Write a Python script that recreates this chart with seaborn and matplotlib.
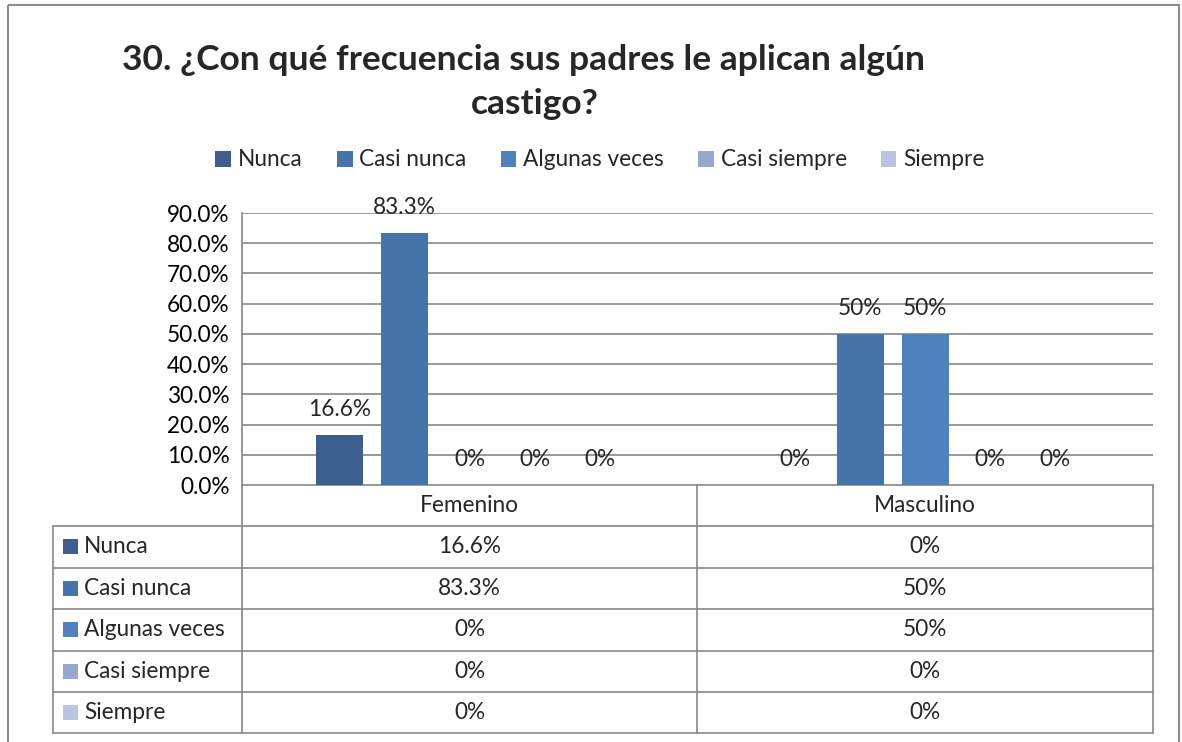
import pandas as pd
import seaborn as sns
import matplotlib.pyplot as plt
from matplotlib.patches import Rectangle

# Data (percent of respondents)
sexos = ["Femenino", "Masculino"]
respuestas = ["Nunca", "Casi nunca", "Algunas veces", "Casi siempre", "Siempre"]
femenino = [16.6, 83.3, 0, 0, 0]
masculino = [0, 50, 50, 0, 0]
colores = ["#3C5F8F", "#4673A9", "#4F81BD", "#95A8D0", "#B9C5E0"]
yticks = [0, 10, 20, 30, 40, 50, 60, 70, 80, 90]

df = pd.DataFrame({
    "sexo": [s for s in sexos for _ in respuestas],
    "respuesta": respuestas * 2,
    "pct": femenino + masculino,
})

sns.set_style("white")
plt.rcParams["font.family"] = ["Lato", "DejaVu Sans"]
fs = 16.3

W, H = 1182, 742
fig = plt.figure(figsize=(W / 100, H / 100), dpi=100)

# pixel helper axes for frame, title, table
over = fig.add_axes([0, 0, 1, 1])
over.set_xlim(0, W)
over.set_ylim(H, 0)
over.axis("off")
over.patch.set_alpha(0)

ax = fig.add_axes([242 / W, 1 - 485 / H, (1153 - 242) / W, (485 - 213) / H])
sns.barplot(data=df, x="sexo", y="pct", hue="respuesta", hue_order=respuestas,
            palette=colores, saturation=1, width=0.714, gap=0.28, linewidth=0, ax=ax)
ax.set_xlim(-0.5, 1.5)
ax.set_ylim(0, 90)
ax.set_yticks(yticks)
ax.set_yticklabels([f"{t:.1f}%" for t in yticks], fontsize=fs)
ax.set_xticks([])
ax.set_xlabel("")
ax.set_ylabel("")
ax.grid(axis="y", color="#868686", lw=1.2)
ax.set_axisbelow(True)
for side in ["top", "right", "bottom"]:
    ax.spines[side].set_visible(False)
ax.spines["left"].set_color("#868686")
ax.spines["left"].set_linewidth(1.2)
ax.tick_params(axis="y", length=7, color="#868686", width=1.2, pad=2, labelcolor="black")

for cont in ax.containers:
    labs = [f"{b.get_height():g}%" for b in cont]
    ax.bar_label(cont, labels=labs, padding=11, fontsize=fs)

handles, labels = ax.get_legend_handles_labels()
ax.get_legend().remove()
fig.legend(handles, labels, loc="center", bbox_to_anchor=(600 / W, 1 - 160 / H),
           ncol=5, frameon=False, fontsize=fs, handlelength=0.7, handleheight=0.7,
           handletextpad=0.3, columnspacing=1.5)

# title
over.text(524, 60, "30. ¿Con qué frecuencia sus padres le aplican algún",
          ha="center", va="center", fontsize=25.5, fontweight="bold")
over.text(535, 104, "castigo?", ha="center", va="center", fontsize=25.5, fontweight="bold")

# outer frame
over.add_patch(Rectangle((8, 5), 1171, 745, fill=False, ec="#8C8C8C", lw=1.5))

# data table
gc = "#868686"
x0, x1, xm, xr = 53, 242, 697, 1153
y_head, y_rows = 485, [526, 567.5, 609, 650.5, 692, 733]
over.plot([x1, xr], [y_head, y_head], color=gc, lw=1.2)
for y in y_rows:
    over.plot([x0, xr], [y, y], color=gc, lw=1.2)
over.plot([x0, x0], [y_rows[0], y_rows[-1]], color=gc, lw=1.2)
for x in [x1, xm, xr]:
    over.plot([x, x], [y_head, y_rows[-1]], color=gc, lw=1.2)

centros = [(x1 + xm) / 2, (xm + xr) / 2]
for c, s in zip(centros, sexos):
    over.text(c, (y_head + y_rows[0]) / 2, s, ha="center", va="center", fontsize=fs)

valores = [femenino, masculino]
for i, r in enumerate(respuestas):
    yc = (y_rows[i] + y_rows[i + 1]) / 2
    over.add_patch(Rectangle((63, yc - 7.5), 15, 15, color=colores[i], lw=0))
    over.text(84, yc, r, ha="left", va="center", fontsize=fs)
    for c, vals in zip(centros, valores):
        over.text(c, yc, f"{vals[i]:g}%", ha="center", va="center", fontsize=fs)

fig.savefig("out.png", dpi=100)
